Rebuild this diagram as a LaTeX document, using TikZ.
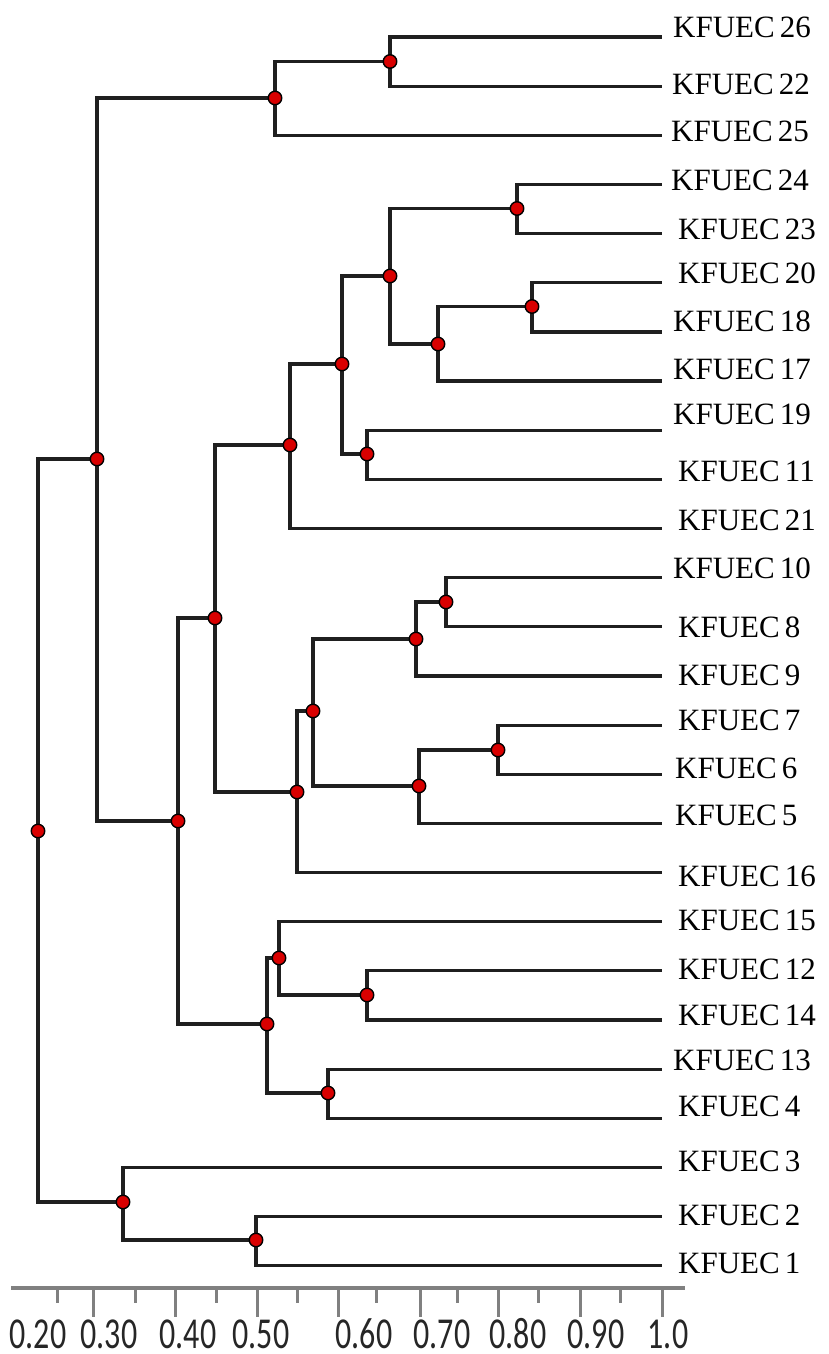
\documentclass[tikz,border=0pt]{standalone}
\usepackage{fontspec}
\setmainfont{Liberation Serif}
\newfontfamily\axisfont{Carlito}
\begin{document}
\begin{tikzpicture}[x=1pt,y=-1pt,
  branch/.style={draw=black!88, line width=3.2pt, line cap=rect},
  marker/.style={circle, fill=red!85!black, draw=black, line width=1.4pt, minimum size=13.5pt, inner sep=0pt},
  leaflabel/.style={anchor=west, font=\fontsize{31}{31}\selectfont, inner sep=0pt},
  axisline/.style={draw=black!50, line width=3.4pt},
  ticklong/.style={draw=black!50, line width=3pt},
  tickshort/.style={draw=black!50, line width=3pt},
  axislabel/.style={font=\axisfont\fontsize{32}{32}\selectfont, inner sep=0pt, text=black!85}]
\useasboundingbox[fill=white] (0,0) rectangle (829,1354);

% leaf end points
\foreach \n [count=\k from 0] in {26,22,25,24,23,20,18,17,19,11,21,10,8,9,7,6,5,16,15,12,14,13,4,3,2,1}
  \coordinate (l\n) at (660, {37+\k*49.15});

% internal nodes
\coordinate (root) at (38,831);
\coordinate (T) at (97,459);
\coordinate (U) at (275,98);
\coordinate (W) at (390,61.5);
\coordinate (V) at (178,821);
\coordinate (F) at (215,618);
\coordinate (B) at (290,445);
\coordinate (A) at (342,364);
\coordinate (P) at (390,276);
\coordinate (Pa) at (517,208.5);
\coordinate (Pb) at (438,344);
\coordinate (Pc) at (532,306.5);
\coordinate (Q) at (367,454);
\coordinate (E) at (297,792);
\coordinate (C0) at (313,711);
\coordinate (C1) at (416,639);
\coordinate (C2) at (446,602);
\coordinate (D1) at (419,786);
\coordinate (D2) at (498,750);
\coordinate (H) at (267,1024);
\coordinate (H1) at (279,958);
\coordinate (H2) at (328,1093);
\coordinate (H3) at (367,995);
\coordinate (R3) at (123,1202);
\coordinate (R2) at (256,1240);

% branches
\draw[branch] (root) |- (T);  \draw[branch] (root) |- (R3);
\draw[branch] (T) |- (U);     \draw[branch] (T) |- (V);
\draw[branch] (U) |- (W);     \draw[branch] (U) |- (l25);
\draw[branch] (W) |- (l26);   \draw[branch] (W) |- (l22);
\draw[branch] (V) |- (F);     \draw[branch] (V) |- (H);
\draw[branch] (F) |- (B);     \draw[branch] (F) |- (E);
\draw[branch] (B) |- (A);     \draw[branch] (B) |- (l21);
\draw[branch] (A) |- (P);     \draw[branch] (A) |- (Q);
\draw[branch] (P) |- (Pa);    \draw[branch] (P) |- (Pb);
\draw[branch] (Pa) |- (l24);  \draw[branch] (Pa) |- (l23);
\draw[branch] (Pb) |- (Pc);   \draw[branch] (Pb) |- (l17);
\draw[branch] (Pc) |- (l20);  \draw[branch] (Pc) |- (l18);
\draw[branch] (Q) |- (l19);   \draw[branch] (Q) |- (l11);
\draw[branch] (E) |- (C0);    \draw[branch] (E) |- (l16);
\draw[branch] (C0) |- (C1);   \draw[branch] (C0) |- (D1);
\draw[branch] (C1) |- (C2);   \draw[branch] (C1) |- (l9);
\draw[branch] (C2) |- (l10);  \draw[branch] (C2) |- (l8);
\draw[branch] (D1) |- (D2);   \draw[branch] (D1) |- (l5);
\draw[branch] (D2) |- (l7);   \draw[branch] (D2) |- (l6);
\draw[branch] (H) |- (H1);    \draw[branch] (H) |- (H2);
\draw[branch] (H1) |- (l15);  \draw[branch] (H1) |- (H3);
\draw[branch] (H3) |- (l12);  \draw[branch] (H3) |- (l14);
\draw[branch] (H2) |- (l13);  \draw[branch] (H2) |- (l4);
\draw[branch] (R3) |- (l3);   \draw[branch] (R3) |- (R2);
\draw[branch] (R2) |- (l2);   \draw[branch] (R2) |- (l1);

% markers
\foreach \m in {root,T,U,W,V,F,B,A,P,Pa,Pb,Pc,Q,E,C0,C1,C2,D1,D2,H,H1,H2,H3,R3,R2}
  \node[marker] (m\m) at (\m) {};

% leaf labels
\foreach \n/\xx/\yy in {26/673/27,22/672/84,25/671/131,24/671/180,23/678/229,20/678/273,18/673/321,17/673/369,19/673/414,
  11/678/471,21/678/520,10/673/568,8/678/627,9/678/675,7/678/720,6/675/768,5/675/815,16/678/876,
  15/678/920,12/678/969,14/678/1015,13/673/1060,4/678/1106,3/678/1161,2/678/1215,1/678/1263}
  \node[leaflabel] (t\n) at (\xx,\yy) {KFUEC\,\n};

% axis
\coordinate (ax0) at (11,1288);
\coordinate (ax1) at (685,1288);
\draw[axisline] (ax0) -- (ax1);
\foreach \xx [count=\i] in {93,175,257,338,420,498,580,662}
  \draw[ticklong] (\xx,1288) -- (\xx,1317);
\foreach \xx [count=\i] in {57,135,216,297,376,457,538,620}
  \draw[tickshort] (\xx,1288) -- (\xx,1303);
\foreach \lab/\xx [count=\i] in {0.20/38,0.30/109,0.40/188,0.50/261,0.60/364,0.70/442,0.80/518,0.90/596,1.0/668}
  \node[axislabel] (a\i) at (\xx,1334) {\scalebox{1}[1.38]{\lab}};
\end{tikzpicture}
\end{document}
